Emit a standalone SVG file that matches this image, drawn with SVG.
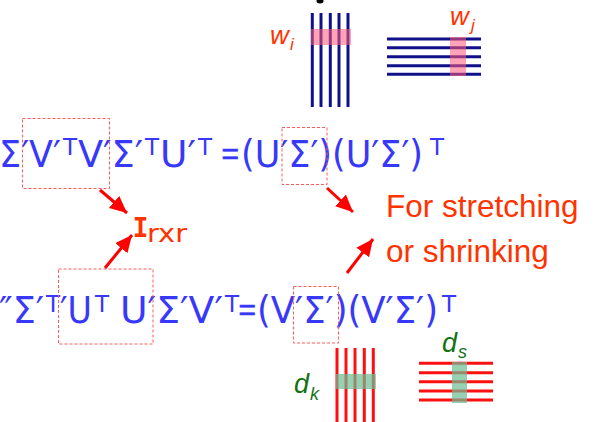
<svg xmlns="http://www.w3.org/2000/svg" width="599" height="422" viewBox="0 0 599 422">
<style>
.eq{font-family:"DejaVu Sans",Verdana,sans-serif;font-size:37px;fill:#3838fa}
.eqs{font-family:"Liberation Sans",Arial,sans-serif;font-size:30px;fill:#3838fa;stroke:#3838fa;stroke-width:0.6}
.sup{font-family:"DejaVu Sans",Verdana,sans-serif;font-size:23px;fill:#3838fa}
.lbl{font-family:"Liberation Sans",Arial,sans-serif;fill:#ff3300}
.it{font-family:"Liberation Sans",Arial,sans-serif;font-style:italic}
.navy{stroke:#10108a;stroke-width:3}
.red{stroke:#ff1010;stroke-width:3}
.box{fill:none;stroke:#ff5a5a;stroke-width:1;stroke-dasharray:3 2}
.pink{fill:#ff5a7a;opacity:0.55}
.green{fill:#6cbc94;opacity:0.7}
.arrow{stroke:#ff0000;stroke-width:3;fill:none;marker-end:url(#ah)}
</style>
<defs>
<marker id="ah" markerUnits="userSpaceOnUse" markerWidth="20" markerHeight="18" refX="17" refY="8" orient="auto">
<path d="M0,0 L17,8 L0,16 Z" fill="#ff0000"/>
</marker>
</defs>
<rect width="599" height="422" fill="#ffffff"/>
<ellipse cx="320" cy="1" rx="3.5" ry="2.5" fill="#000"/>

<g id="matrix-wi">
<line class="navy" x1="312.3" y1="13" x2="312.3" y2="107"/>
<line class="navy" x1="321" y1="13" x2="321" y2="107"/>
<line class="navy" x1="330.3" y1="13" x2="330.3" y2="107"/>
<line class="navy" x1="339" y1="13" x2="339" y2="107"/>
<line class="navy" x1="348" y1="13" x2="348" y2="107"/>
<rect class="pink" x="311" y="29" width="40" height="16"/>
<text class="it" fill="#ff3300" x="270" y="44" font-size="26">w</text>
<text class="it" fill="#ff3300" x="290" y="50" font-size="17">i</text>
</g>

<g id="matrix-wj">
<line class="navy" x1="387" y1="39" x2="481" y2="39"/>
<line class="navy" x1="387" y1="47.7" x2="481" y2="47.7"/>
<line class="navy" x1="387" y1="56.7" x2="481" y2="56.7"/>
<line class="navy" x1="387" y1="65.7" x2="481" y2="65.7"/>
<line class="navy" x1="387" y1="74.3" x2="481" y2="74.3"/>
<rect class="pink" x="450" y="37" width="16" height="39"/>
<text class="it" fill="#ff3300" x="450" y="25" font-size="26">w</text>
<text class="it" fill="#ff3300" x="471" y="31" font-size="17">j</text>
</g>

<g id="equation1">
<text class="eq" x="-1" y="166.7" textLength="62" lengthAdjust="spacingAndGlyphs">Σ′V′</text>
<text class="sup" x="63" y="155.3">T</text>
<text class="eq" x="78" y="166.7" textLength="65" lengthAdjust="spacingAndGlyphs">V′Σ′</text>
<text class="sup" x="145" y="155.3">T</text>
<text class="eq" x="160" y="166.7" textLength="36" lengthAdjust="spacingAndGlyphs">U′</text>
<text class="sup" x="198" y="155.3">T</text>
<text class="eqs" x="221.5" y="163.7">=</text>
<text class="eq" x="0" y="0" transform="translate(241 166.7) scale(0.8 1)" textLength="227.5" lengthAdjust="spacingAndGlyphs">(U′Σ′)(U′Σ′)</text>
<text class="sup" x="430" y="155.3">T</text>
<rect class="box" x="22.5" y="118.5" width="87" height="70"/>
<rect class="box" x="282" y="127.5" width="45" height="57"/>
</g>

<g id="equation2">
<text class="eq" x="-1" y="323" textLength="45" lengthAdjust="spacingAndGlyphs">″Σ′</text>
<text class="sup" x="46" y="312">T</text>
<text class="eq" x="60" y="323" textLength="32" lengthAdjust="spacingAndGlyphs">′U</text>
<text class="sup" x="95" y="312">T</text>
<text class="eq" x="120" y="323" textLength="103" lengthAdjust="spacingAndGlyphs">U′Σ′V′</text>
<text class="sup" x="225" y="312">T</text>
<text class="eqs" x="238.5" y="320">=</text>
<text class="eq" x="0" y="0" transform="translate(257 323) scale(0.8 1)" textLength="226.25" lengthAdjust="spacingAndGlyphs">(V′Σ′)(V′Σ′)</text>
<text class="sup" x="442" y="312">T</text>
<rect class="box" x="58.5" y="269" width="94.5" height="75"/>
<rect class="box" x="293.5" y="286.5" width="45" height="56.5"/>
</g>

<g id="label-irxr">
<text x="140.5" y="237" font-family="'DejaVu Sans Mono',monospace" font-weight="bold" font-size="26" fill="#ff3300" text-anchor="middle">I</text>
<text x="147" y="242" font-family="'DejaVu Sans',sans-serif" font-size="25" fill="#ff3300" textLength="40" lengthAdjust="spacingAndGlyphs">rxr</text>
</g>

<g id="label-stretch">
<text class="lbl" x="386" y="217" font-size="31.5">For stretching</text>
<text class="lbl" x="386" y="262" font-size="31.5">or shrinking</text>
</g>

<g id="matrix-dk">
<line class="red" x1="337" y1="348" x2="337" y2="424"/>
<line class="red" x1="346" y1="348" x2="346" y2="424"/>
<line class="red" x1="355" y1="348" x2="355" y2="424"/>
<line class="red" x1="364.3" y1="348" x2="364.3" y2="424"/>
<line class="red" x1="373.3" y1="348" x2="373.3" y2="424"/>
<rect class="green" x="336" y="374" width="40" height="15"/>
<text class="it" fill="#137313" x="294" y="393" font-size="27">d</text>
<text class="it" fill="#137313" x="310" y="400" font-size="18">k</text>
</g>

<g id="matrix-ds">
<line class="red" x1="419" y1="363.3" x2="493" y2="363.3"/>
<line class="red" x1="419" y1="372.7" x2="493" y2="372.7"/>
<line class="red" x1="419" y1="381.7" x2="493" y2="381.7"/>
<line class="red" x1="419" y1="391" x2="493" y2="391"/>
<line class="red" x1="419" y1="400" x2="493" y2="400"/>
<rect class="green" x="452" y="362" width="15" height="41"/>
<text class="it" fill="#137313" x="442" y="352" font-size="27">d</text>
<text class="it" fill="#137313" x="458" y="358" font-size="18">s</text>
</g>

<g id="connectors">
<line class="arrow" x1="100" y1="190" x2="127" y2="213"/>
<line class="arrow" x1="105" y1="268" x2="132" y2="235"/>
<line class="arrow" x1="327" y1="188" x2="353" y2="212"/>
<line class="arrow" x1="347" y1="273" x2="373" y2="239"/>
</g>
</svg>
